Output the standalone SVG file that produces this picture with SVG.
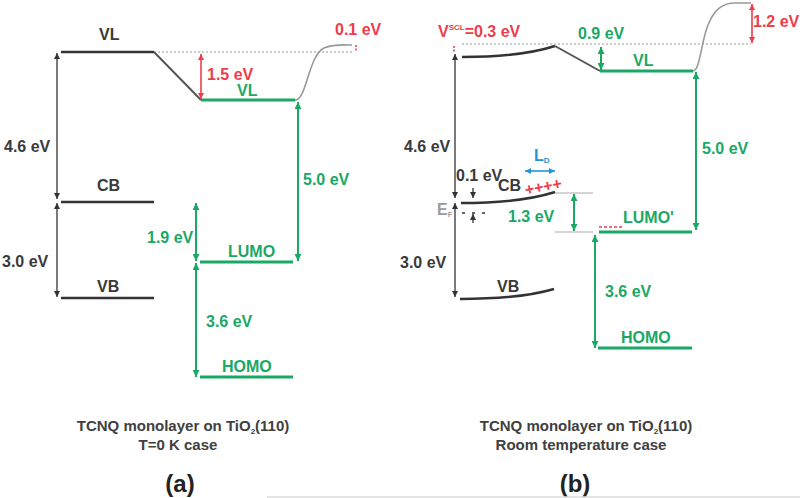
<svg xmlns="http://www.w3.org/2000/svg" width="800" height="498" viewBox="0 0 800 498">
<style>
text{font-family:"Liberation Sans",Arial,sans-serif;font-weight:bold;font-size:16px}
.k{fill:#3a3a3a}.g{fill:#1aa865}.r{fill:#ee3d4c}.b{fill:#2196d6}.gy{fill:#9a9a9a}
.lk{stroke:#333;stroke-width:2.5;fill:none}
.lg{stroke:#1aa865;stroke-width:3;fill:none}
.sl{stroke:#555;stroke-width:2;fill:none}
.dot{stroke:#999;stroke-width:1.2;stroke-dasharray:2 2;fill:none}
.thin{stroke:#aaa;stroke-width:1.2;fill:none}
.curve{stroke:#999;stroke-width:1.6;fill:none}
.ak{stroke:#333;stroke-width:1.3;marker-start:url(#mk);marker-end:url(#mk)}
.ag{stroke:#1aa865;stroke-width:2;marker-start:url(#mg);marker-end:url(#mg)}
.ar{stroke:#ee3d4c;stroke-width:1.6;marker-start:url(#mr);marker-end:url(#mr)}
.ab{stroke:#2196d6;stroke-width:1.6;marker-start:url(#mb);marker-end:url(#mb)}
.rd{stroke:#ee3d4c;stroke-width:1.6;stroke-dasharray:2 1.5;fill:none}
.cap{font-size:15px;fill:#404040;text-anchor:middle}
.lab{font-size:24px;fill:#222;text-anchor:middle}
</style>
<defs>
<marker id="mk" viewBox="0 0 10 10" refX="10" refY="5" markerWidth="6" markerHeight="6" markerUnits="userSpaceOnUse" orient="auto-start-reverse"><path d="M0,0 L10,5 L0,10 z" fill="#333"/></marker>
<marker id="mg" viewBox="0 0 10 10" refX="10" refY="5" markerWidth="7" markerHeight="7" markerUnits="userSpaceOnUse" orient="auto-start-reverse"><path d="M0,0 L10,5 L0,10 z" fill="#1aa865"/></marker>
<marker id="mr" viewBox="0 0 10 10" refX="10" refY="5" markerWidth="6" markerHeight="6" markerUnits="userSpaceOnUse" orient="auto-start-reverse"><path d="M0,0 L10,5 L0,10 z" fill="#ee3d4c"/></marker>
<marker id="mb" viewBox="0 0 10 10" refX="10" refY="5" markerWidth="6" markerHeight="6" markerUnits="userSpaceOnUse" orient="auto-start-reverse"><path d="M0,0 L10,5 L0,10 z" fill="#2196d6"/></marker>
</defs>
<rect width="800" height="498" fill="#fff"/>

<!-- Panel (a) -->
<g id="a-vl-tio2"><path class="lk" d="M61,52 H154"/><text class="k" x="99" y="40">VL</text></g>
<g id="a-vl-ref"><path class="dot" d="M154,52 H352"/></g>
<g id="a-vl-slope"><path class="sl" d="M154,52 L201,100"/></g>
<g id="a-vl-tcnq"><path class="lg" d="M201,100 H295"/><text class="g" x="237" y="96">VL</text></g>
<g id="a-vl-rise"><path class="curve" d="M295,100 C307,100 308,56 324,48 C334,44 344,45 352,45"/><path class="rd" d="M356,45 V52"/><text class="r" x="335" y="35">0.1 eV</text></g>
<g id="a-cb"><path class="lk" d="M61,202 H154"/><text class="k" x="97" y="191">CB</text></g>
<g id="a-vb"><path class="lk" d="M61,298 H154"/><text class="k" x="97" y="292">VB</text></g>
<g id="a-lumo"><path class="lg" d="M200,262 H293"/><text class="g" x="228" y="257">LUMO</text></g>
<g id="a-homo"><path class="lg" d="M200,377 H293"/><text class="g" x="222" y="372">HOMO</text></g>
<g id="a-labels">
<text class="r" x="207" y="80">1.5 eV</text>
<text class="k" x="4" y="152">4.6 eV</text>
<text class="k" x="2" y="267">3.0 eV</text>
<text class="g" x="147" y="243">1.9 eV</text>
<text class="g" x="303" y="185">5.0 eV</text>
<text class="g" x="206" y="327">3.6 eV</text>
</g>
<g id="a-caption">
<text class="cap" x="183" y="431">TCNQ monolayer on TiO<tspan font-size="8" dy="3">2</tspan><tspan dy="-3">(110)</tspan></text>
<text class="cap" x="178" y="450">T=0 K case</text>
<text class="lab" x="180" y="492">(a)</text>
</g>

<!-- Panel (b) -->
<g id="b-vl-tio2"><path class="lk" d="M462,57 C500,57 530,54 555,46"/><path class="rd" d="M454,46 V53"/><text class="r" x="438" y="37">V<tspan font-size="8" dy="-7">SCL</tspan><tspan dy="7">=0.3 eV</tspan></text></g>
<g id="b-vl-ref"><path class="dot" d="M462,44 H751"/></g>
<g id="b-vl-slope"><path class="sl" d="M555,46 L600,71"/></g>
<g id="b-vl-tcnq"><path class="lg" d="M600,71 H693"/><text class="g" x="633" y="66">VL</text></g>
<g id="b-vl-rise"><path class="curve" d="M693,71 C700,71 701,42 708,25 C714,10 722,3 735,3 H751"/><text class="r" x="753" y="27">1.2 eV</text></g>
<g id="b-cb"><path class="lk" d="M461,203 C500,203 530,200 555,192"/><text class="k" x="498" y="191">CB</text><text class="k" x="456" y="181" font-size="13" font-weight="normal">0.1 eV</text><text class="r" x="526" y="195.5" font-size="12.5" transform="rotate(-11 526 195.5)">++++</text></g>
<g id="b-ef"><path d="M462,213 H490" stroke="#333" stroke-width="1.3" stroke-dasharray="3 7"/><text class="gy" x="437" y="215" font-size="13" font-weight="normal">E<tspan font-size="7" dy="2">F</tspan></text></g>
<g id="b-ld"><text class="b" x="534" y="161">L<tspan font-size="8" dy="2">D</tspan></text></g>
<g id="b-cb-ext"><path class="thin" d="M555,193 H593"/></g>
<g id="b-lumo-ext"><path class="thin" d="M555,232 H593"/></g>
<g id="b-lumo"><path class="lg" d="M599,232 H692"/><path d="M599,227 H623" stroke="#ee3d4c" stroke-width="1.3" stroke-dasharray="3 2"/><text class="g" x="623" y="223">LUMO'</text></g>
<g id="b-homo"><path class="lg" d="M598,348 H692"/><text class="g" x="621" y="343">HOMO</text></g>
<g id="b-vb"><path class="lk" d="M460,299 C500,299 530,296 554,289"/><text class="k" x="497" y="292">VB</text></g>
<g id="b-labels">
<text class="g" x="578" y="39">0.9 eV</text>
<text class="k" x="404" y="152">4.6 eV</text>
<text class="k" x="400" y="268">3.0 eV</text>
<text class="g" x="508" y="222">1.3 eV</text>
<text class="g" x="702" y="154">5.0 eV</text>
<text class="g" x="605" y="297">3.6 eV</text>
</g>
<g id="b-caption">
<text class="cap" x="586" y="431">TCNQ monolayer on TiO<tspan font-size="8" dy="3">2</tspan><tspan dy="-3">(110)</tspan></text>
<text class="cap" x="581" y="450">Room temperature case</text>
<text class="lab" x="575" y="492">(b)</text>
</g>

<g id="connectors">
<line class="ar" x1="201" y1="54" x2="201" y2="99"/>
<line class="ak" x1="57" y1="53" x2="57" y2="199"/>
<line class="ak" x1="57" y1="203" x2="57" y2="297"/>
<line class="ag" x1="196" y1="203" x2="196" y2="261"/>
<line class="ag" x1="196" y1="263" x2="196" y2="377"/>
<line class="ag" x1="298" y1="102" x2="298" y2="261"/>
<line class="ag" x1="601" y1="47" x2="601" y2="70"/>
<line class="ar" x1="752" y1="4" x2="752" y2="43"/>
<line class="ak" x1="455" y1="54" x2="455" y2="198"/>
<line class="ak" x1="455" y1="203" x2="455" y2="297"/>
<line class="ak" x1="473" y1="188" x2="473" y2="198" style="marker-start:none"/>
<line class="ak" x1="473" y1="223" x2="473" y2="214" style="marker-start:none"/>
<line class="ab" x1="525" y1="171" x2="555" y2="171"/>
<line class="ag" x1="574" y1="194" x2="574" y2="231"/>
<line class="ag" x1="696" y1="72" x2="696" y2="230"/>
<line class="ag" x1="595" y1="235" x2="595" y2="348"/>
</g>
<path d="M267,497 H800" stroke="#ddd" stroke-width="1.5"/>
</svg>
